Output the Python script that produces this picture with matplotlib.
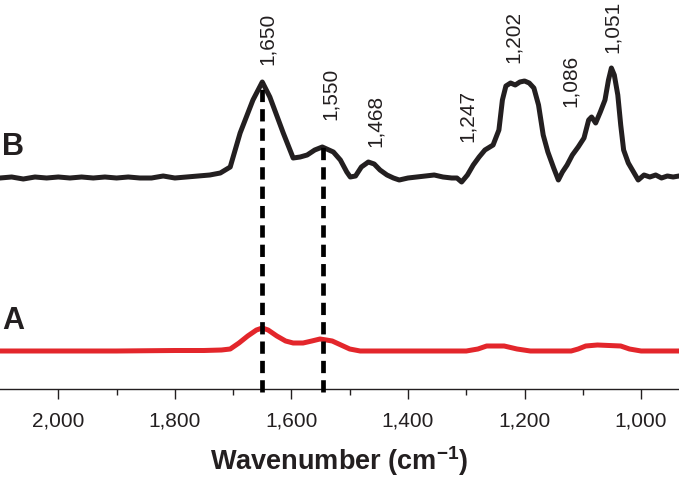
import numpy as np
import matplotlib
matplotlib.use("Agg")
import matplotlib.pyplot as plt

plt.rcParams['font.family'] = ['Liberation Sans', 'DejaVu Sans']
plt.rcParams['mathtext.default'] = 'regular'

# spectrum B (upper, black)
wn_b = [2100, 2080, 2060, 2040, 2020, 2000, 1980, 1960, 1940, 1920, 1900, 1880, 1860,
        1840, 1820, 1800, 1780, 1760, 1740, 1722, 1705, 1688, 1666, 1650, 1637, 1614,
        1597, 1585, 1573, 1560, 1547, 1528, 1516, 1505, 1499, 1490, 1480, 1468, 1458,
        1448, 1436, 1425, 1415, 1400, 1385, 1370, 1355, 1340, 1325, 1316, 1308, 1298,
        1288, 1278, 1268, 1254, 1244, 1238, 1232, 1224, 1216, 1208, 1200, 1192, 1184,
        1176, 1168, 1160, 1150, 1142, 1135, 1127, 1118, 1108, 1098, 1090, 1085, 1078,
        1070, 1062, 1056, 1051, 1046, 1040, 1035, 1030, 1022, 1015, 1005, 995, 985,
        975, 965, 955, 945, 935]
int_b = [0, 0.01, -0.01, 0.01, 0, 0.01, 0, 0.01, 0, 0.01, 0, 0.01, 0,
         0, 0.02, 0, 0.01, 0.02, 0.03, 0.05, 0.11, 0.45, 0.78, 0.96, 0.81, 0.45,
         0.20, 0.21, 0.23, 0.28, 0.31, 0.26, 0.18, 0.06, 0.01, 0.02, 0.11, 0.16, 0.14,
         0.08, 0.03, 0, -0.02, 0, 0.01, 0.02, 0.03, 0.01, 0, 0, -0.04, 0.03,
         0.13, 0.21, 0.28, 0.33, 0.48, 0.78, 0.92, 0.95, 0.93, 0.96, 0.97, 0.95, 0.90,
         0.73, 0.43, 0.26, 0.10, -0.02, 0.06, 0.13, 0.23, 0.31, 0.40, 0.58, 0.61, 0.55,
         0.66, 0.78, 0.98, 1.10, 1.03, 0.83, 0.53, 0.28, 0.15, 0.08, -0.02, 0.03, 0.01,
         0.03, 0, 0.02, 0.01, 0.02]

# spectrum A (lower, red)
wn_a = [2100, 2000, 1900, 1800, 1750, 1720, 1705, 1690, 1675, 1660, 1650, 1640, 1625,
        1610, 1597, 1580, 1565, 1551, 1540, 1530, 1515, 1500, 1482, 1450, 1400, 1350,
        1300, 1280, 1265, 1250, 1235, 1213, 1190, 1150, 1120, 1108, 1095, 1075, 1055,
        1035, 1020, 1000, 970, 935]
int_a = [0, 0, 0, 0.005, 0.005, 0.01, 0.02, 0.08, 0.15, 0.21, 0.23, 0.21, 0.15,
         0.10, 0.08, 0.08, 0.10, 0.12, 0.11, 0.10, 0.06, 0.02, 0, 0, 0, 0,
         0, 0.02, 0.05, 0.05, 0.05, 0.02, 0, 0, 0, 0.02, 0.05, 0.06, 0.055,
         0.05, 0.02, 0, 0, 0]

peak_labels = ['1,650', '1,550', '1,468', '1,247', '1,202', '1,086', '1,051']
label_x = [1642, 1534, 1456, 1298, 1219, 1122, 1050]
label_y = [2.86, 2.31, 2.04, 2.09, 2.88, 2.44, 2.98]

dash_wn = [1650, 1545]
dash_top = [2.69, 2.04]

xticks = [2000, 1800, 1600, 1400, 1200, 1000]
xtick_labels = ['2,000', '1,800', '1,600', '1,400', '1,200', '1,000']

offset_b = 1.73
ink = '#231f20'

fig = plt.figure(figsize=(6.79, 4.79), dpi=100)
ax = fig.add_axes([0, 1 - 389 / 479, 1, 389 / 479])

ax.plot(wn_b, np.array(int_b) + offset_b, color=ink, lw=3.6, solid_joinstyle='round')
ax.plot(wn_a, int_a, color='#e3262b', lw=3.6, solid_joinstyle='round')

for w, top in zip(dash_wn, dash_top):
    ax.plot([w, w], [-0.41, top], color='black', lw=3.4, dashes=(2.6, 1.5),
            clip_on=False, zorder=5)

for lab, x, y in zip(peak_labels, label_x, label_y):
    ax.text(x, y, lab, rotation=90, ha='center', va='bottom', fontsize=15,
            color=ink, clip_on=False)

ax.set_xlim(2100, 935)
ax.set_ylim(-0.38, 3.51)
ax.set_xticks(xticks)
ax.set_xticklabels(xtick_labels, fontsize=15, color=ink)
ax.set_xticks([1900, 1700, 1500, 1300, 1100], minor=True)
ax.tick_params(axis='x', which='major', length=7, width=1, color=ink, pad=9)
ax.tick_params(axis='x', which='minor', length=4, width=1, color=ink)
ax.set_yticks([])
for s in ['left', 'right', 'top']:
    ax.spines[s].set_visible(False)
ax.spines['bottom'].set_color(ink)
ax.spines['bottom'].set_linewidth(1)
ax.patch.set_alpha(0)
ax.set_xlabel('Wavenumber (cm$^{-1}$)', fontsize=19.5, fontweight='bold', color=ink,
              labelpad=10)

fig.text(13 / 679, 1 - 147 / 479, 'B', fontsize=22, fontweight='bold', color=ink,
         ha='center', va='center')
fig.text(13 / 679, 1 - 321 / 479, 'A', fontsize=22, fontweight='bold', color=ink,
         ha='center', va='center')

fig.savefig('out.png', dpi=100)
